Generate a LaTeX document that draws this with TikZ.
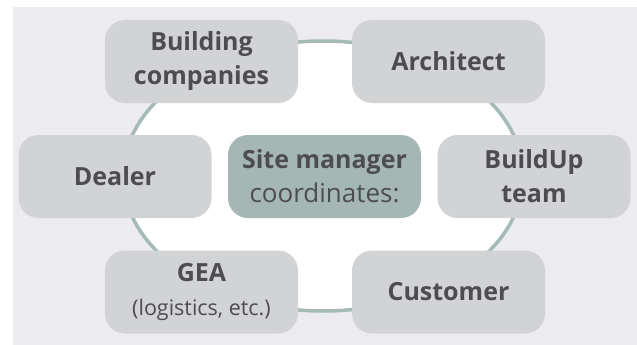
\documentclass[tikz,border=0pt]{standalone}
\usepackage{fontspec}
\setmainfont{Open Sans}
\definecolor{panel}{HTML}{ECECEE}
\definecolor{boxfill}{HTML}{D2D3D5}
\definecolor{mgrfill}{HTML}{A4B7B5}
\definecolor{ring}{HTML}{A3BAB6}
\definecolor{txt}{HTML}{4D4D4F}
\tikzset{
  party/.style={fill=boxfill, rounded corners=20pt, minimum width=193pt, minimum height=83pt,
    inner sep=0pt, align=center, text=txt, font=\fontsize{25}{34}\selectfont\bfseries},
  mgr/.style={party, fill=mgrfill},
}
\begin{document}
\begin{tikzpicture}[x=1pt,y=-1pt]
\useasboundingbox (0,0) rectangle (637,345);
\fill[panel] (13,7) rectangle (637,345);
\coordinate (c) at (323,176);
\draw[ring, line width=3.5pt, fill=white] (c) ellipse [x radius=200, y radius=135];
\node[party] (bc) at (201.5,61.5) {Building\\companies};
\node[party] (ar) at (448.5,61.5) {Architect};
\node[party] (de) at (115,176.5) {Dealer};
\node[mgr] (sm) at (324.5,176.5) {Site manager\\{\fontsize{26}{34}\selectfont\mdseries coordinates:}};
\node[party] (bu) at (534,176.5) {BuildUp\\team};
\node[party] (ge) at (201.5,292) {GEA\\{\fontsize{21.5}{34}\selectfont\mdseries (logistics, etc.)}};
\node[party] (cu) at (448.5,292) {Customer};
\end{tikzpicture}
\end{document}
